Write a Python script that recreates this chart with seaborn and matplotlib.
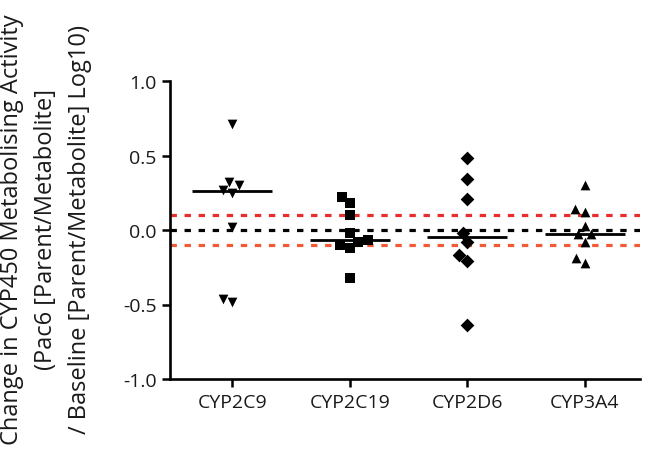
import numpy as np
import pandas as pd
import matplotlib
matplotlib.use("Agg")
import matplotlib.pyplot as plt
import matplotlib.ticker as mtick
import seaborn as sns

# ---------- Data ----------
enzymes = ["CYP2C9", "CYP2C19", "CYP2D6", "CYP3A4"]
markers = ["v", "s", "D", "^"]

cyp2c9 = [0.71, 0.32, 0.30, 0.27, 0.25, 0.02, -0.46, -0.48]
cyp2c19 = [0.22, 0.18, 0.10, -0.02, -0.07, -0.08, -0.10, -0.12, -0.32]
cyp2d6 = [0.48, 0.34, 0.21, -0.02, -0.08, -0.17, -0.21, -0.64]
cyp3a4 = [0.30, 0.14, 0.12, 0.03, -0.03, -0.03, -0.08, -0.19, -0.22]

ref_levels = [0.1, 0.0, -0.1]
ref_colors = ["#e62e2d", "black", "#f15a36"]

yticks = [-1.0, -0.5, 0.0, 0.5, 1.0]

df = pd.DataFrame({
    "Enzyme": np.repeat(enzymes, [len(cyp2c9), len(cyp2c19), len(cyp2d6), len(cyp3a4)]),
    "Change": cyp2c9 + cyp2c19 + cyp2d6 + cyp3a4,
})

# ---------- Plot ----------
sns.set_style("ticks")
plt.rcParams["font.family"] = ["Open Sans", "DejaVu Sans"]

fig = plt.figure(figsize=(6.45, 4.64), dpi=100)
ax = fig.add_axes([170 / 645, 84 / 464, 470 / 645, 298 / 464])

# reference lines (under the points)
for lvl, col in zip(ref_levels, ref_colors):
    ax.axhline(lvl, color=col, lw=2.3, ls=(0, (2.0, 2.4)), zorder=1)

# median bars
sns.boxplot(data=df, x="Enzyme", y="Change", order=enzymes, width=0.68,
            showbox=False, showcaps=False, showfliers=False, whis=0,
            whiskerprops={"visible": False},
            medianprops={"color": "black", "lw": 2.0}, ax=ax, zorder=3)

# points, one marker per enzyme
for enz, mk in zip(enzymes, markers):
    sns.swarmplot(data=df[df["Enzyme"] == enz], x="Enzyme", y="Change",
                  order=enzymes, marker=mk, color="black", size=7,
                  linewidth=0, ax=ax, zorder=4)

ax.set_xlim(-0.53, 3.47)
ax.set_ylim(-1.0, 1.0)
ax.set_yticks(yticks)
ax.yaxis.set_major_formatter(mtick.FuncFormatter(lambda v, _: f"{v:.1f}"))
ax.set_xlabel("")
ax.set_ylabel("")
ax.tick_params(axis="both", labelsize=14, width=1.8, length=6, color="black",
               labelcolor="#1a1a1a")
ax.tick_params(axis="x", pad=4)
sns.despine(ax=ax, top=True, right=True)
for sp in ["left", "bottom"]:
    ax.spines[sp].set_linewidth(1.9)
    ax.spines[sp].set_color("black")

fig.text(46 / 645, 0.505,
         "Change in CYP450 Metabolising Activity\n(Pac6 [Parent/Metabolite]\n"
         "/ Baseline [Parent/Metabolite] Log10)",
         rotation=90, ha="center", va="center", multialignment="center",
         fontsize=17, linespacing=1.58, color="#1a1a1a")

fig.savefig("out.png", dpi=100)
